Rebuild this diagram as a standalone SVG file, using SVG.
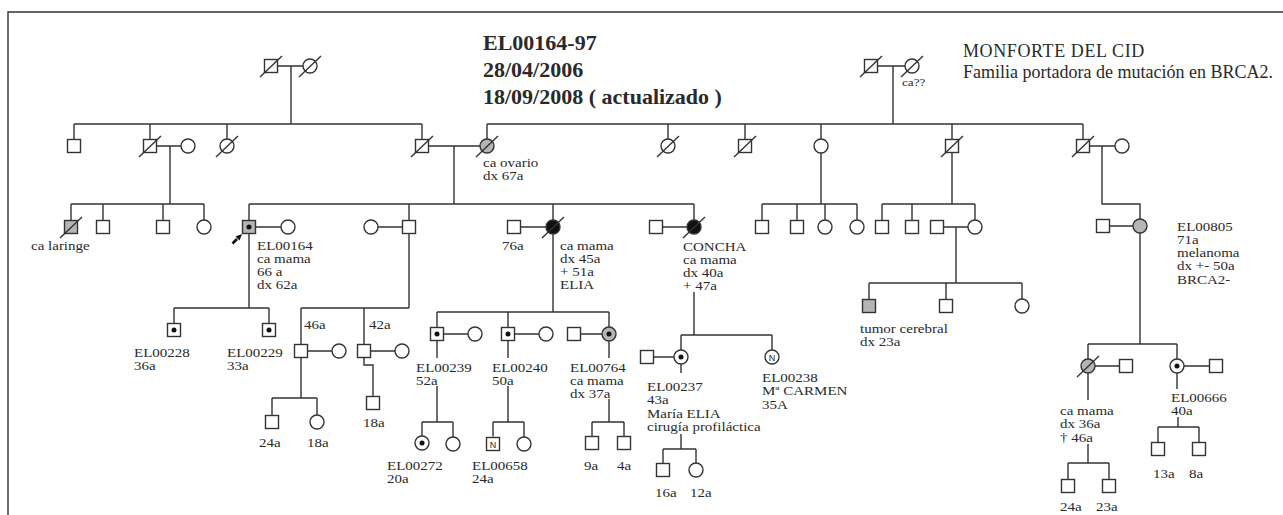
<svg xmlns="http://www.w3.org/2000/svg" width="1283" height="515" viewBox="0 0 1283 515">
<style>
.ln{stroke:#333;stroke-width:1.4;fill:none}
.sq,.ci{stroke:#333;stroke-width:1.4;fill:#fff}
.g{fill:#b5b5b5}
.k{fill:#111}
.sl{stroke:#333;stroke-width:1.4}
.dot{fill:#111}
text{font-family:"Liberation Serif","Times New Roman",serif;fill:#2a2a2a}
.t{font-size:12px}
.h{font-size:22px;font-weight:bold}
.m{font-size:18px}
.sm{font-size:11px}
.n{font-size:9px;font-family:"Liberation Sans",Arial,sans-serif;text-anchor:middle}
</style>
<rect width="1283" height="515" fill="#fff"/>
<path class="ln" d="M8,515 V12 H1283"/>

<g id="titles">
<text class="h" x="483" y="50">EL00164-97</text>
<text class="h" x="483" y="77">28/04/2006</text>
<text class="h" x="483" y="104">18/09/2008 ( actualizado )</text>
<text class="m" x="963" y="57" letter-spacing="0.6">MONFORTE DEL CID</text>
<text class="m" x="963" y="78">Familia portadora de mutación en BRCA2.</text>
</g>

<g id="connectors">
<path class="ln" d="M278,66 H303 M291,66 V124 M74,124 H422 M74,124 V139.5 M150,124 V139.5 M227,124 V139 M422,124 V139.5"/>
<path class="ln" d="M877.5,66 H905 M893,66 V124 M487,124 H1083 M487,124 V139 M668,124 V139 M745,124 V139.5 M821,124 V139 M952,124 V139.5 M1083,124 V139.5"/>
<path class="ln" d="M156.5,146 H181 M170,146 V204 M71,204 H204 M71,204 V220.5 M103,204 V220.5 M163,204 V220.5 M204,204 V220"/>
<path class="ln" d="M428.5,146 H480 M454,146 V204 M249,204 H694 M249,204 V220.5 M409,204 V220.5 M553,204 V220 M694,204 V220"/>
<path class="ln" d="M821,153 V204 M762,204 H857 M762,204 V220.5 M797,204 V220.5 M825,204 V220 M857,204 V220"/>
<path class="ln" d="M952,152.5 V204 M882,204 H975 M882,204 V220.5 M912,204 V220.5 M975,204 V220"/>
<path class="ln" d="M1089.5,146 H1115 M1102,146 V204 H1140 V219"/>
<path class="ln" d="M255.5,227 H281 M249,233.5 V308 M174,308 H269 M174,308 V323.5 M269,308 V323.5"/>
<path class="ln" d="M378,227 H402.5 M409,233.5 V308 M301,308 H409 M301,308 V344.5 M364,308 V344.5"/>
<path class="ln" d="M520.5,227 H546 M553,234 V312 M437,312 H609 M437,312 V327.5 M508,312 V327.5 M609,312 V327"/>
<path class="ln" d="M662.5,227 H687 M694,292 V335 M681,335 H772 M681,335 V350 M772,335 V350"/>
<path class="ln" d="M943.5,227 H968 M956,227 V283 M869,283 H1022 M869,283 V299.5 M946,283 V299.5 M1022,283 V299"/>
<path class="ln" d="M1109.5,226 H1133 M1140,233 V344 M1088,344 H1177 M1088,344 V359 M1177,344 V359"/>
<path class="ln" d="M307.5,351 H332 M301,357.5 V398 M272,398 H317 M272,398 V415.5 M317,398 V415"/>
<path class="ln" d="M370.5,351 H395 M364,357.5 V365 H373 V396.5"/>
<path class="ln" d="M443.5,334 H468 M437,340.5 V358 M437,386 V422 M422,422 H453 M422,422 V436 M453,422 V437"/>
<path class="ln" d="M514.5,334 H539 M508,340.5 V358 M508,386 V422 M493,422 H524 M493,422 V436.5 M524,422 V437"/>
<path class="ln" d="M580.5,334 H602 M609,341 V358 M609,399 V422 M592,422 H624 M592,422 V436.5 M624,422 V436.5"/>
<path class="ln" d="M653.5,357 H674 M681,364 V373 M681,434 V449 M663,449 H696 M663,449 V463.5 M696,449 V463"/>
<path class="ln" d="M1095,366 H1119.5 M1088,373 V400 M1088,444 V463 M1068,463 H1109 M1068,463 V479.5 M1109,463 V479.5"/>
<path class="ln" d="M1184,366 H1209.5 M1177,373 V389 M1178,417 V427 M1158,427 H1199 M1158,427 V442.5 M1199,427 V442.5"/>
</g>

<!-- Generation I -->
<g id="I1"><rect class="sq" x="264.5" y="59.5" width="13" height="13"/><line class="sl" x1="260" y1="77" x2="282" y2="56"/></g>
<g id="I2"><circle class="ci" cx="310" cy="66" r="7"/><line class="sl" x1="299" y1="77" x2="321" y2="56"/></g>
<g id="I3"><rect class="sq" x="864.5" y="59.5" width="13" height="13"/><line class="sl" x1="860" y1="77" x2="882" y2="56"/></g>
<g id="I4"><circle class="ci" cx="912" cy="66" r="7"/><line class="sl" x1="901" y1="77" x2="923" y2="56"/><text class="sm" transform="translate(902,86) scale(1.2,1)">ca??</text></g>

<!-- Generation II -->
<g id="II1"><rect class="sq" x="67.5" y="139.5" width="13" height="13"/></g>
<g id="II2"><rect class="sq" x="143.5" y="139.5" width="13" height="13"/><line class="sl" x1="139" y1="157" x2="161" y2="136"/></g>
<g id="II3"><circle class="ci" cx="188" cy="146" r="7"/></g>
<g id="II4"><circle class="ci" cx="227" cy="146" r="7"/><line class="sl" x1="216" y1="157" x2="238" y2="136"/></g>
<g id="II5"><rect class="sq" x="415.5" y="139.5" width="13" height="13"/><line class="sl" x1="411" y1="157" x2="433" y2="136"/></g>
<g id="II6"><circle class="ci g" cx="487" cy="146" r="7"/><line class="sl" x1="476" y1="157" x2="498" y2="136"/><text class="t" transform="translate(483,167) scale(1.25,1)"><tspan x="0" y="0">ca ovario</tspan><tspan x="0" y="13.3">dx 67a</tspan></text></g>
<g id="II7"><circle class="ci" cx="668" cy="146" r="7"/><line class="sl" x1="657" y1="157" x2="679" y2="136"/></g>
<g id="II8"><rect class="sq" x="738.5" y="139.5" width="13" height="13"/><line class="sl" x1="734" y1="157" x2="756" y2="136"/></g>
<g id="II9"><circle class="ci" cx="821" cy="146" r="7"/></g>
<g id="II10"><rect class="sq" x="945.5" y="139.5" width="13" height="13"/><line class="sl" x1="941" y1="157" x2="963" y2="136"/></g>
<g id="II11"><rect class="sq" x="1076.5" y="139.5" width="13" height="13"/><line class="sl" x1="1072" y1="157" x2="1094" y2="136"/></g>
<g id="II12"><circle class="ci" cx="1122" cy="146" r="7"/></g>

<!-- Generation III -->
<g id="III1"><rect class="sq g" x="64.5" y="220.5" width="13" height="13"/><line class="sl" x1="60" y1="238" x2="82" y2="217"/><text class="t" transform="translate(31,250) scale(1.25,1)">ca laringe</text></g>
<g id="III2"><rect class="sq" x="96.5" y="220.5" width="13" height="13"/></g>
<g id="III3"><rect class="sq" x="156.5" y="220.5" width="13" height="13"/></g>
<g id="III4"><circle class="ci" cx="204" cy="227" r="7"/></g>
<g id="III5"><rect class="sq g" x="242.5" y="220.5" width="13" height="13"/><circle class="dot" cx="249" cy="227" r="2.5"/>
<path d="M232.5,243.5 L237,239" stroke="#111" stroke-width="2.6"/><polygon points="242,234 235.5,236.5 239.5,240.5" fill="#111"/>
<text class="t" transform="translate(257,249.5) scale(1.25,1)"><tspan x="0" y="0">EL00164</tspan><tspan x="0" y="13.3">ca mama</tspan><tspan x="0" y="26.6">66 a</tspan><tspan x="0" y="39.9">dx 62a</tspan></text></g>
<g id="III6"><circle class="ci" cx="288" cy="227" r="7"/></g>
<g id="III7"><circle class="ci" cx="371" cy="227" r="7"/></g>
<g id="III8"><rect class="sq" x="402.5" y="220.5" width="13" height="13"/></g>
<g id="III9"><rect class="sq" x="507.5" y="220.5" width="13" height="13"/><text class="t" transform="translate(502,250) scale(1.25,1)">76a</text></g>
<g id="III10"><circle class="ci k" cx="553" cy="227" r="7"/><line class="sl" x1="542" y1="238" x2="564" y2="217"/><text class="t" transform="translate(560,249.5) scale(1.25,1)"><tspan x="0" y="0">ca mama</tspan><tspan x="0" y="13.3">dx 45a</tspan><tspan x="0" y="26.6">+ 51a</tspan><tspan x="0" y="39.9">ELIA</tspan></text></g>
<g id="III11"><rect class="sq" x="649.5" y="220.5" width="13" height="13"/></g>
<g id="III12"><circle class="ci k" cx="694" cy="227" r="7"/><line class="sl" x1="683" y1="238" x2="705" y2="217"/><text class="t" transform="translate(683,250.5) scale(1.25,1)"><tspan x="0" y="0">CONCHA</tspan><tspan x="0" y="13.3">ca mama</tspan><tspan x="0" y="26.6">dx 40a</tspan><tspan x="0" y="39.9">+ 47a</tspan></text></g>
<g id="III13"><rect class="sq" x="755.5" y="220.5" width="13" height="13"/></g>
<g id="III14"><rect class="sq" x="790.5" y="220.5" width="13" height="13"/></g>
<g id="III15"><circle class="ci" cx="825" cy="227" r="7"/></g>
<g id="III16"><circle class="ci" cx="857" cy="227" r="7"/></g>
<g id="III17"><rect class="sq" x="875.5" y="220.5" width="13" height="13"/></g>
<g id="III18"><rect class="sq" x="905.5" y="220.5" width="13" height="13"/></g>
<g id="III19"><rect class="sq" x="930.5" y="220.5" width="13" height="13"/></g>
<g id="III20"><circle class="ci" cx="975" cy="227" r="7"/></g>
<g id="III21"><rect class="sq" x="1096.5" y="219.5" width="13" height="13"/></g>
<g id="III22"><circle class="ci g" cx="1140" cy="226" r="7"/><text class="t" transform="translate(1177,230.5) scale(1.25,1)"><tspan x="0" y="0">EL00805</tspan><tspan x="0" y="13.3">71a</tspan><tspan x="0" y="26.6">melanoma</tspan><tspan x="0" y="39.9">dx +- 50a</tspan><tspan x="0" y="53.2">BRCA2-</tspan></text></g>

<!-- Generation IV -->
<g id="IV1"><rect class="sq" x="167.5" y="323.5" width="13" height="13"/><circle class="dot" cx="174" cy="330" r="2.5"/><text class="t" transform="translate(134,357) scale(1.25,1)"><tspan x="0" y="0">EL00228</tspan><tspan x="0" y="13.3">36a</tspan></text></g>
<g id="IV2"><rect class="sq" x="262.5" y="323.5" width="13" height="13"/><circle class="dot" cx="269" cy="330" r="2.5"/><text class="t" transform="translate(227,357) scale(1.25,1)"><tspan x="0" y="0">EL00229</tspan><tspan x="0" y="13.3">33a</tspan></text></g>
<g id="IV3"><rect class="sq" x="294.5" y="344.5" width="13" height="13"/><text class="t" transform="translate(304,329) scale(1.25,1)">46a</text></g>
<g id="IV4"><circle class="ci" cx="339" cy="351" r="7"/></g>
<g id="IV5"><rect class="sq" x="357.5" y="344.5" width="13" height="13"/><text class="t" transform="translate(369,329) scale(1.25,1)">42a</text></g>
<g id="IV6"><circle class="ci" cx="402" cy="351" r="7"/></g>
<g id="IV7"><rect class="sq" x="430.5" y="327.5" width="13" height="13"/><circle class="dot" cx="437" cy="334" r="2.5"/><text class="t" transform="translate(416,371.5) scale(1.25,1)"><tspan x="0" y="0">EL00239</tspan><tspan x="0" y="13.3">52a</tspan></text></g>
<g id="IV8"><circle class="ci" cx="475" cy="334" r="7"/></g>
<g id="IV9"><rect class="sq" x="501.5" y="327.5" width="13" height="13"/><circle class="dot" cx="508" cy="334" r="2.5"/><text class="t" transform="translate(492,371.5) scale(1.25,1)"><tspan x="0" y="0">EL00240</tspan><tspan x="0" y="13.3">50a</tspan></text></g>
<g id="IV10"><circle class="ci" cx="546" cy="334" r="7"/></g>
<g id="IV11"><rect class="sq" x="567.5" y="327.5" width="13" height="13"/></g>
<g id="IV12"><circle class="ci g" cx="609" cy="334" r="7"/><circle class="dot" cx="609" cy="334" r="2.5"/><text class="t" transform="translate(570,371.5) scale(1.25,1)"><tspan x="0" y="0">EL00764</tspan><tspan x="0" y="13.3">ca mama</tspan><tspan x="0" y="26.6">dx 37a</tspan></text></g>
<g id="IV13"><rect class="sq" x="640.5" y="350.5" width="13" height="13"/></g>
<g id="IV14"><circle class="ci" cx="681" cy="357" r="7"/><circle class="dot" cx="681" cy="357" r="2.5"/><text class="t" transform="translate(647,391) scale(1.25,1)"><tspan x="0" y="0">EL00237</tspan><tspan x="0" y="13.3">43a</tspan><tspan x="0" y="26.6">María ELIA</tspan><tspan x="0" y="39.9">cirugía profiláctica</tspan></text></g>
<g id="IV15"><circle class="ci" cx="772" cy="357" r="7"/><text class="n" x="772" y="360.5">N</text><text class="t" transform="translate(762,382) scale(1.25,1)"><tspan x="0" y="0">EL00238</tspan><tspan x="0" y="13.3">Mª CARMEN</tspan><tspan x="0" y="26.6">35A</tspan></text></g>
<g id="IV16"><rect class="sq g" x="862.5" y="299.5" width="13" height="13"/><text class="t" transform="translate(860,333) scale(1.25,1)"><tspan x="0" y="0">tumor cerebral</tspan><tspan x="0" y="13.5">dx 23a</tspan></text></g>
<g id="IV17"><rect class="sq" x="939.5" y="299.5" width="13" height="13"/></g>
<g id="IV18"><circle class="ci" cx="1022" cy="306" r="7"/></g>
<g id="IV19"><circle class="ci g" cx="1088" cy="366" r="7"/><line class="sl" x1="1077" y1="377" x2="1099" y2="356"/><text class="t" transform="translate(1060,415) scale(1.25,1)"><tspan x="0" y="0">ca mama</tspan><tspan x="0" y="13.3">dx 36a</tspan><tspan x="0" y="26.6">† 46a</tspan></text></g>
<g id="IV20"><rect class="sq" x="1119.5" y="359.5" width="13" height="13"/></g>
<g id="IV21"><circle class="ci" cx="1177" cy="366" r="7"/><circle class="dot" cx="1177" cy="366" r="2.5"/><text class="t" transform="translate(1171,401.5) scale(1.25,1)"><tspan x="0" y="0">EL00666</tspan><tspan x="0" y="13.3">40a</tspan></text></g>
<g id="IV22"><rect class="sq" x="1209.5" y="359.5" width="13" height="13"/></g>

<!-- Generation V -->
<g id="V1"><rect class="sq" x="265.5" y="415.5" width="13" height="13"/><text class="t" transform="translate(259,447) scale(1.25,1)">24a</text></g>
<g id="V2"><circle class="ci" cx="317" cy="422" r="7"/><text class="t" transform="translate(307,447) scale(1.25,1)">18a</text></g>
<g id="V3"><rect class="sq" x="366.5" y="396.5" width="13" height="13"/><text class="t" transform="translate(363,427) scale(1.25,1)">18a</text></g>
<g id="V4"><circle class="ci" cx="422" cy="443" r="7"/><circle class="dot" cx="422" cy="443" r="2.5"/><text class="t" transform="translate(387,469.5) scale(1.25,1)"><tspan x="0" y="0">EL00272</tspan><tspan x="0" y="13.3">20a</tspan></text></g>
<g id="V5"><circle class="ci" cx="453" cy="444" r="7"/></g>
<g id="V6"><rect class="sq" x="486.5" y="437.5" width="13" height="13"/><text class="n" x="493" y="447.5">N</text><text class="t" transform="translate(472,469.5) scale(1.25,1)"><tspan x="0" y="0">EL00658</tspan><tspan x="0" y="13.3">24a</tspan></text></g>
<g id="V7"><circle class="ci" cx="524" cy="444" r="7"/></g>
<g id="V8"><rect class="sq" x="585.5" y="436.5" width="13" height="13"/><text class="t" transform="translate(584,470) scale(1.25,1)">9a</text></g>
<g id="V9"><rect class="sq" x="617.5" y="436.5" width="13" height="13"/><text class="t" transform="translate(617,470) scale(1.25,1)">4a</text></g>
<g id="V10"><rect class="sq" x="656.5" y="463.5" width="13" height="13"/><text class="t" transform="translate(655,497) scale(1.25,1)">16a</text></g>
<g id="V11"><circle class="ci" cx="696" cy="470" r="7"/><text class="t" transform="translate(690,497) scale(1.25,1)">12a</text></g>
<g id="V12"><rect class="sq" x="1061.5" y="479.5" width="13" height="13"/><text class="t" transform="translate(1060,511) scale(1.25,1)">24a</text></g>
<g id="V13"><rect class="sq" x="1102.5" y="479.5" width="13" height="13"/><text class="t" transform="translate(1096,511) scale(1.25,1)">23a</text></g>
<g id="V14"><rect class="sq" x="1151.5" y="442.5" width="13" height="13"/><text class="t" transform="translate(1153,478) scale(1.25,1)">13a</text></g>
<g id="V15"><rect class="sq" x="1192.5" y="442.5" width="13" height="13"/><text class="t" transform="translate(1189,478) scale(1.25,1)">8a</text></g>
</svg>
